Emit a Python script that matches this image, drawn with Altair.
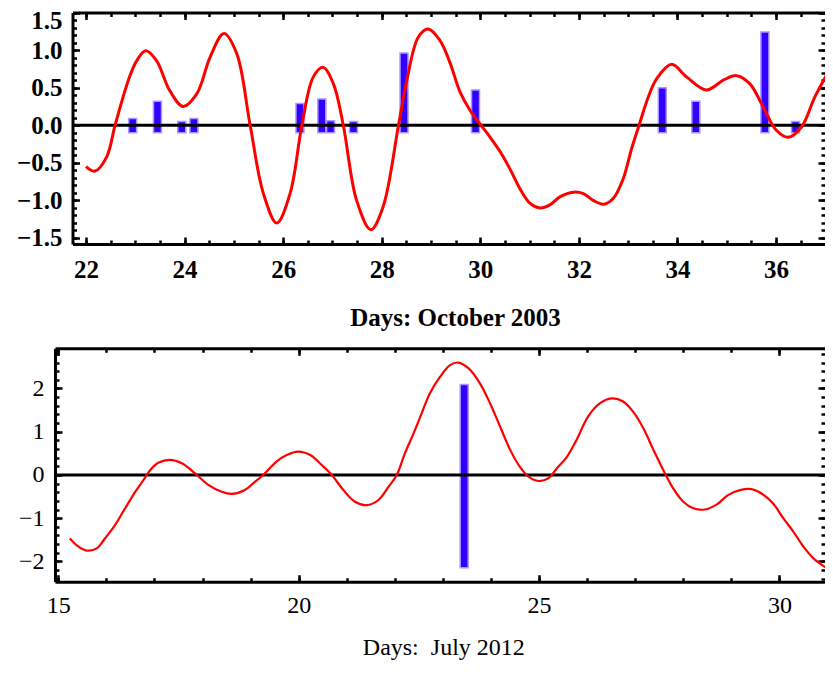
import altair as alt
import pandas as pd

FONT = "Liberation Serif"

# ---------------- October 2003 (top panel) ----------------
oct_day = [22.00, 22.18, 22.42, 22.59, 22.86, 23.03, 23.21, 23.43, 23.70, 23.97,
           24.25, 24.52, 24.80, 25.06, 25.33, 25.60, 25.87, 26.14, 26.38, 26.61,
           26.81, 27.02, 27.22, 27.49, 27.78, 28.03, 28.34, 28.51, 28.74, 28.94,
           29.18, 29.38, 29.59, 29.79, 29.99, 30.20, 30.40, 30.60, 30.80, 31.01,
           31.21, 31.41, 31.62, 31.89, 32.09, 32.29, 32.50, 32.70, 32.90, 33.07,
           33.24, 33.41, 33.58, 33.88, 34.19, 34.59, 34.93, 35.20, 35.47, 35.74,
           36.01, 36.25, 36.52, 36.79, 37.06]
oct_val = [-0.55, -0.61, -0.42, 0.00, 0.60, 0.86, 0.99, 0.86, 0.46, 0.25,
           0.42, 0.91, 1.22, 0.95, 0.00, -0.91, -1.30, -0.91, 0.00, 0.64,
           0.77, 0.55, 0.00, -1.00, -1.39, -1.08, 0.00, 0.60, 1.17, 1.28,
           1.13, 0.84, 0.44, 0.20, 0.02, -0.16, -0.35, -0.58, -0.84, -1.04,
           -1.10, -1.06, -0.95, -0.89, -0.91, -1.00, -1.05, -0.97, -0.71, -0.31,
           0.04, 0.38, 0.62, 0.81, 0.64, 0.47, 0.60, 0.66, 0.55, 0.24,
           -0.07, -0.16, -0.02, 0.38, 0.71]
oct_bar_day = [22.86, 23.37, 23.87, 24.12, 26.30, 26.75, 26.93, 27.40, 28.44,
               29.91, 33.75, 34.44, 35.86, 36.49]
oct_bar_top = [0.09, 0.32, 0.05, 0.09, 0.29, 0.35, 0.06, 0.05, 0.96,
               0.47, 0.50, 0.32, 1.24, 0.05]
oct_bar_base = -0.10
oct_xlabels = [22, 24, 26, 28, 30, 32, 34, 36]
oct_xminor = [22 + 0.5 * i for i in range(30)]
oct_ylabels = [-1.5, -1.0, -0.5, 0.0, 0.5, 1.0, 1.5]
oct_yminor = [round(-1.5 + 0.1 * i, 1) for i in range(31)]
oct_xdomain = [21.726, 36.993]
oct_ydomain = [-1.58, 1.5]
oct_title = "Days: October 2003"

# ---------------- July 2012 (bottom panel) ----------------
jul_day = [15.24, 15.42, 15.59, 15.80, 15.97, 16.18, 16.39, 16.60, 16.77, 16.91,
           17.08, 17.32, 17.57, 17.84, 18.12, 18.40, 18.61, 18.88, 19.09, 19.26,
           19.54, 19.75, 19.99, 20.24, 20.48, 20.69, 20.93, 21.17, 21.42, 21.66,
           21.87, 22.04, 22.21, 22.39, 22.56, 22.73, 22.94, 23.15, 23.32, 23.53,
           23.77, 23.98, 24.19, 24.40, 24.60, 24.78, 24.99, 25.19, 25.37, 25.58,
           25.78, 26.02, 26.27, 26.51, 26.75, 26.96, 27.17, 27.38, 27.60, 27.79,
           28.00, 28.21, 28.45, 28.70, 28.94, 29.18, 29.42, 29.67, 29.87, 30.08,
           30.29, 30.50, 30.71, 30.99]
jul_val = [-1.47, -1.66, -1.75, -1.70, -1.47, -1.16, -0.77, -0.39, -0.12, 0.11,
           0.28, 0.35, 0.27, 0.04, -0.23, -0.39, -0.44, -0.35, -0.16, 0.00,
           0.31, 0.46, 0.54, 0.46, 0.23, 0.00, -0.35, -0.62, -0.70, -0.58,
           -0.27, 0.00, 0.50, 0.96, 1.43, 1.89, 2.27, 2.54, 2.60, 2.47,
           2.12, 1.66, 1.12, 0.58, 0.19, -0.04, -0.14, -0.08, 0.15, 0.42,
           0.81, 1.35, 1.66, 1.77, 1.70, 1.46, 1.08, 0.58, 0.08, -0.31,
           -0.62, -0.77, -0.80, -0.68, -0.46, -0.35, -0.33, -0.46, -0.66, -1.00,
           -1.31, -1.66, -1.93, -2.16]
jul_bar_day = [23.45]
jul_bar_low = [-2.15]
jul_bar_high = [2.09]
jul_xlabels = [15, 20, 25, 30]
jul_xminor = list(range(15, 31))
jul_ylabels = [-2, -1, 0, 1, 2]
jul_yminor = [round(-2.4 + 0.2 * i, 1) for i in range(27)]
jul_xdomain = [14.931, 30.949]
jul_ydomain = [-2.47, 2.93]
jul_title = "Days:\u00a0 July 2012"

W, H = 817, 652


def tick_axis(orient, offset, values, size):
    return alt.Axis(orient=orient, offset=offset, values=values, ticks=True,
                    tickSize=size, tickWidth=2.5, tickColor="black",
                    labels=False, domain=False, grid=False, title=None)


def frame_axis(orient, offset):
    return alt.Axis(orient=orient, offset=offset, domain=True, domainWidth=3,
                    domainColor="black", ticks=False, labels=False, grid=False,
                    title=None)


def panel(day, val, bars, P):
    xs = alt.Scale(domain=P["xdom"], range=P["xr"], nice=False, zero=False)
    ys = alt.Scale(domain=P["ydom"], range=P["yr"], nice=False, zero=False)
    curve = pd.DataFrame({"day": day, "val": val})
    xl, xr = P["xr"]
    yb, yt = P["yr"]

    def ghost(xaxis, yaxis):
        return alt.Chart(curve).mark_point(opacity=0).encode(
            x=alt.X("day:Q", scale=xs, axis=xaxis),
            y=alt.Y("val:Q", scale=ys, axis=yaxis))

    fw = P["weight"]
    fs = P["fontsize"]
    xlab = dict(orient="bottom", offset=yb - H, values=P["xlabels"], format="d",
                domain=True, domainWidth=3, domainColor="black", ticks=False,
                tickSize=0, labelFlush=False, labelFont=FONT, labelFontSize=fs,
                labelFontWeight=fw, labelColor="black", labelPadding=P["xlp"],
                title=P["title"], titleFont=FONT, titleFontSize=fs,
                titleFontWeight=fw, titleColor="black", titleBaseline="top",
                titleY=P["titleY"], titleX=P["titleX"], grid=False)
    ylab = dict(orient="left", offset=-xl, values=P["ylabels"], format=P["yfmt"],
                domain=True, domainWidth=3, domainColor="black", ticks=False,
                tickSize=0, labelFont=FONT, labelFontSize=fs, labelFontWeight=fw,
                labelColor="black", labelPadding=P["ylp"], title=None, grid=False)
    if "flush" in P:
        ylab["labelFlush"] = 1
        ylab["labelFlushOffset"] = P["flush"]
    else:
        ylab["labelFlush"] = False

    line = alt.Chart(curve).mark_line(color="#ff0000", strokeWidth=P["lw"],
                                      interpolate="catmull-rom").encode(
        x=alt.X("day:Q", scale=xs, axis=alt.Axis(**xlab)),
        y=alt.Y("val:Q", scale=ys, axis=alt.Axis(**ylab)))

    zero = alt.Chart(pd.DataFrame({"x0": [P["xdom"][0]], "x1": [P["xdom"][1]], "z": [0]})
                     ).mark_rule(color="black", strokeWidth=3).encode(
        x=alt.X("x0:Q", scale=xs, axis=None), x2="x1:Q",
        y=alt.Y("z:Q", scale=ys, axis=None))

    bar = alt.Chart(bars).mark_bar(size=8, color="#3300ff", stroke="#a898ff",
                                   strokeWidth=1.5).encode(
        x=alt.X("day:Q", scale=xs, axis=None),
        y=alt.Y("lo:Q", scale=ys, axis=None), y2="hi:Q")

    MJ, MN = 7, 4
    layers = [
        bar, zero, line,
        ghost(frame_axis("top", -yt), tick_axis("left", -(xl + MJ), P["ylabels"], MJ)),
        ghost(tick_axis("bottom", yb - H - MJ, P["xlabels"], MJ),
              tick_axis("left", -(xl + MN), P["yminor"], MN)),
        ghost(tick_axis("bottom", yb - H - MN, P["xminor"], MN),
              tick_axis("right", xr - W - MJ, P["ylabels"], MJ)),
        ghost(tick_axis("top", -(yt + MJ), P["xlabels"], MJ),
              tick_axis("right", xr - W - MN, P["yminor"], MN)),
        ghost(tick_axis("top", -(yt + MN), P["xminor"], MN), None),
    ]
    return layers


oct_bars = pd.DataFrame({"day": oct_bar_day, "lo": [oct_bar_base] * len(oct_bar_day),
                         "hi": oct_bar_top})
jul_bars = pd.DataFrame({"day": jul_bar_day, "lo": jul_bar_low, "hi": jul_bar_high})

top = panel(oct_day, oct_val, oct_bars, dict(
    xdom=oct_xdomain, ydom=oct_ydomain, xr=[64.5, 817], yr=[236, 4.5],
    xlabels=oct_xlabels, xminor=oct_xminor, ylabels=oct_ylabels, yminor=oct_yminor,
    yfmt=".1f", weight="bold", fontsize=25, xlp=13.25, ylp=10.5,
    titleY=61.25, titleX=447,
    title=oct_title, flush=4.5, lw=3))

bottom = panel(jul_day, jul_val, jul_bars, dict(
    xdom=jul_xdomain, ydom=jul_ydomain, xr=[47, 817], yr=[573.7, 340.3],
    xlabels=jul_xlabels, xminor=jul_xminor, ylabels=jul_ylabels, yminor=jul_yminor,
    yfmt="d", weight="normal", fontsize=24, xlp=12, ylp=11,
    titleY=54, titleX=435.3,
    title=jul_title, lw=2.2))

chart = alt.layer(*top, *bottom).resolve_scale(
    x="independent", y="independent"
).resolve_axis(
    x="independent", y="independent"
).properties(
    width=W, height=H, padding=0,
    autosize=alt.AutoSizeParams(type="none"),
).configure_view(stroke=None)

chart.save("out.html", embed_options={"renderer": "svg", "actions": False})
